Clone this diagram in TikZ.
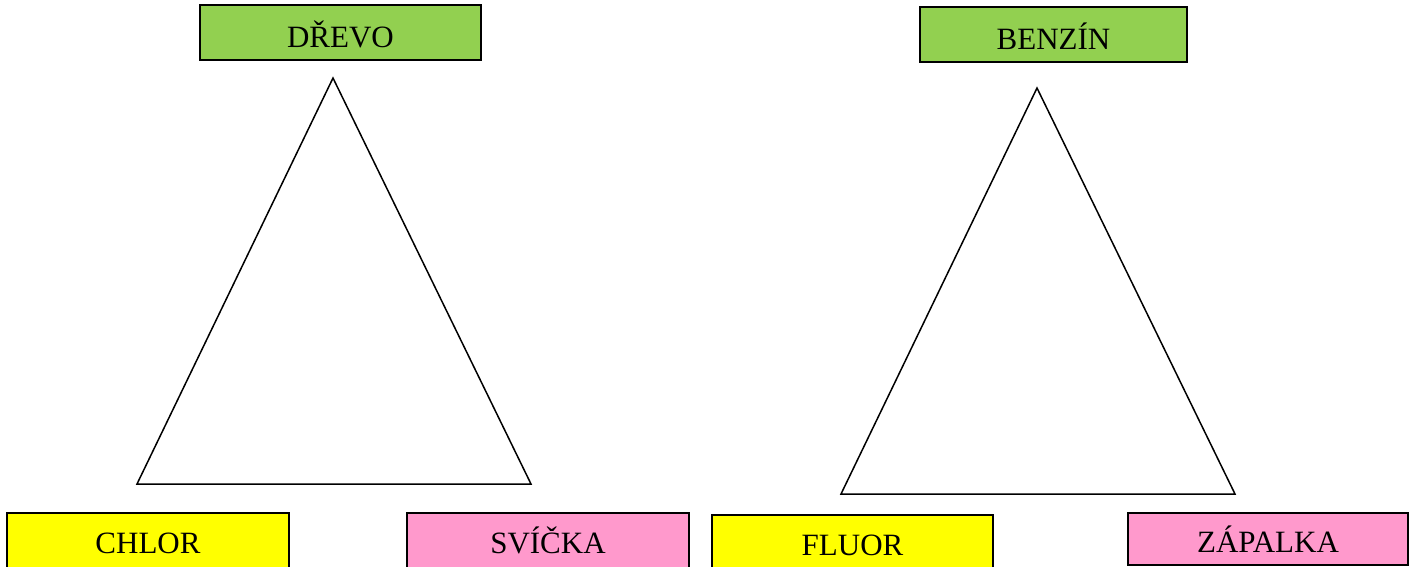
\documentclass[tikz,border=0pt]{standalone}
\usepackage{fontspec}
\setmainfont{Liberation Serif}
\definecolor{leafgreen}{HTML}{92D050}
\definecolor{signyellow}{HTML}{FFFF00}
\definecolor{softpink}{HTML}{FF99CC}
\begin{document}
\begin{tikzpicture}[x=1pt,y=-1pt,
  tag/.style={draw=black, line width=1.8pt, inner sep=0pt, minimum width=281,
    minimum height=55, text height=30pt, text depth=0pt,
    font=\fontsize{31}{37}\selectfont},
  lowtag/.style={tag, minimum height=58, text height=22pt},
  edge/.style={draw=black, line width=1.5pt, line join=miter}]
\useasboundingbox (0,0) rectangle (1416,566);
\clip (0,0) rectangle (1416,566);
% top labels
\node[tag, fill=leafgreen] (drevo) at (340.5,32.5) {DŘEVO};
\node[tag, fill=leafgreen, minimum width=267] (benzin) at (1053.5,34.5) {BENZÍN};
% bottom labels
\node[lowtag, fill=signyellow, minimum width=282] (chlor) at (148,542) {CHLOR};
\node[lowtag, fill=softpink, minimum width=282] (svicka) at (548,542) {SVÍČKA};
\node[lowtag, fill=signyellow] (fluor) at (852.5,544) {FLUOR};
\node[tag, fill=softpink, minimum width=280, minimum height=52, text height=26pt] (zapalka) at (1268,539) {ZÁPALKA};
% triangles
\coordinate (la) at (333,78);
\coordinate (lb) at (137,484);
\coordinate (lc) at (531,484);
\draw[edge] (la) -- (lb) -- (lc) -- cycle;
\coordinate (ra) at (1037,88);
\coordinate (rb) at (841,494);
\coordinate (rc) at (1235,494);
\draw[edge] (ra) -- (rb) -- (rc) -- cycle;
\end{tikzpicture}
\end{document}
